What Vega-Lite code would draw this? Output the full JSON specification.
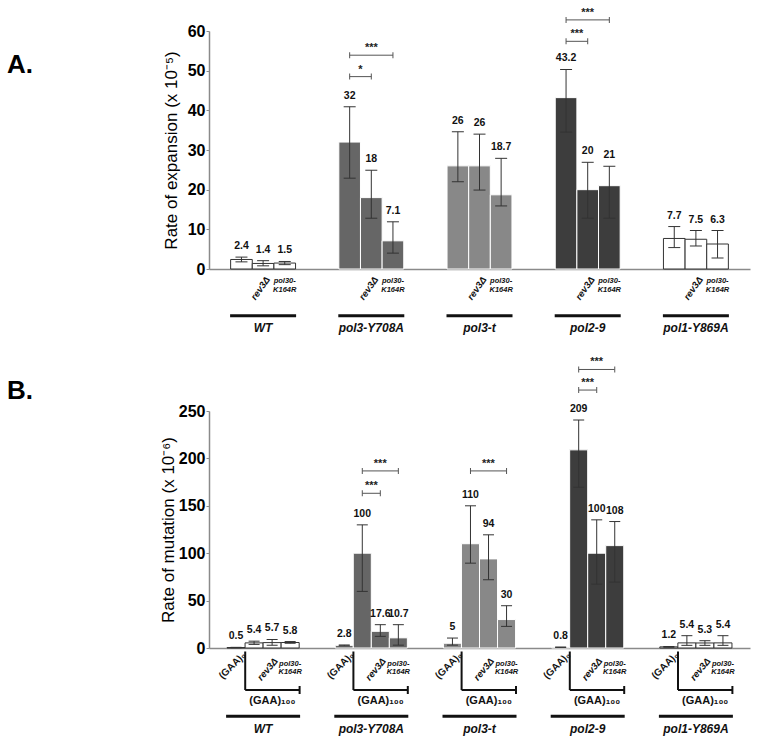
{
  "$schema": "https://vega.github.io/schema/vega-lite/v6.json",
  "padding": {"left": 7, "top": 6, "right": 5, "bottom": 5},
  "background": "white",
  "spacing": 22,
  "resolve": {"scale": {"xOffset": "independent"}},
  "config": {
    "view": {"stroke": null},
    "font": "Liberation Sans",
    "axis": {"grid": false, "domainColor": "#8a8a8a", "domainWidth": 1.5, "tickColor": "#8a8a8a", "labelColor": "#000000", "titleColor": "#000000"},
    "axisY": {"labelFontSize": 16, "labelFontWeight": "bold", "titleFontSize": 17, "titleFontWeight": "normal", "tickSize": 3, "labelPadding": 1},
    "axisX": {"labels": false, "ticks": false},
    "tick": {"opacity": 1},
    "title": {"offset": 0}
  },
  "datasets": {
    "A": [
      {"group": "WT", "strain": "wt", "rate": 2.4, "lo": 1.8, "hi": 3.0},
      {"group": "WT", "strain": "rev3Δ", "rate": 1.4, "lo": 0.8, "hi": 2.1},
      {"group": "WT", "strain": "pol30-K164R", "rate": 1.5, "lo": 1.1, "hi": 1.9},
      {"group": "pol3-Y708A", "strain": "wt", "rate": 32, "lo": 22.9, "hi": 40.9},
      {"group": "pol3-Y708A", "strain": "rev3Δ", "rate": 18, "lo": 12.8, "hi": 24.9},
      {"group": "pol3-Y708A", "strain": "pol30-K164R", "rate": 7.1, "lo": 4.0, "hi": 11.9},
      {"group": "pol3-t", "strain": "wt", "rate": 26, "lo": 22.0, "hi": 34.6},
      {"group": "pol3-t", "strain": "rev3Δ", "rate": 26, "lo": 19.9, "hi": 34.0},
      {"group": "pol3-t", "strain": "pol30-K164R", "rate": 18.7, "lo": 15.9, "hi": 27.9},
      {"group": "pol2-9", "strain": "wt", "rate": 43.2, "lo": 34.5, "hi": 50.3},
      {"group": "pol2-9", "strain": "rev3Δ", "rate": 20, "lo": 12.8, "hi": 26.9},
      {"group": "pol2-9", "strain": "pol30-K164R", "rate": 21, "lo": 12.8, "hi": 25.9},
      {"group": "pol1-Y869A", "strain": "wt", "rate": 7.7, "lo": 5.4, "hi": 10.7},
      {"group": "pol1-Y869A", "strain": "rev3Δ", "rate": 7.5, "lo": 5.8, "hi": 9.7},
      {"group": "pol1-Y869A", "strain": "pol30-K164R", "rate": 6.3, "lo": 2.8, "hi": 9.7}
    ],
    "B": [
      {"group": "WT", "strain": "(GAA)0", "rate": 0.5, "lo": 0.3, "hi": 0.7},
      {"group": "WT", "strain": "wt", "rate": 5.4, "lo": 3.8, "hi": 7.2},
      {"group": "WT", "strain": "rev3Δ", "rate": 5.7, "lo": 3.0, "hi": 9.0},
      {"group": "WT", "strain": "pol30-K164R", "rate": 5.8, "lo": 5.0, "hi": 6.8},
      {"group": "pol3-Y708A", "strain": "(GAA)0", "rate": 2.8, "lo": 2.4, "hi": 3.2},
      {"group": "pol3-Y708A", "strain": "wt", "rate": 100, "lo": 59.7, "hi": 129.9},
      {"group": "pol3-Y708A", "strain": "rev3Δ", "rate": 17.6, "lo": 12.3, "hi": 24.6},
      {"group": "pol3-Y708A", "strain": "pol30-K164R", "rate": 10.7, "lo": 3.0, "hi": 24.6},
      {"group": "pol3-t", "strain": "(GAA)0", "rate": 5, "lo": 3.0, "hi": 10.5},
      {"group": "pol3-t", "strain": "wt", "rate": 110, "lo": 89.5, "hi": 150},
      {"group": "pol3-t", "strain": "rev3Δ", "rate": 94, "lo": 72, "hi": 119.4},
      {"group": "pol3-t", "strain": "pol30-K164R", "rate": 30, "lo": 22.8, "hi": 44.6},
      {"group": "pol2-9", "strain": "(GAA)0", "rate": 0.8, "lo": 0.6, "hi": 1.0},
      {"group": "pol2-9", "strain": "wt", "rate": 209, "lo": 169.6, "hi": 240.5},
      {"group": "pol2-9", "strain": "rev3Δ", "rate": 100, "lo": 67.4, "hi": 135.2},
      {"group": "pol2-9", "strain": "pol30-K164R", "rate": 108, "lo": 69.5, "hi": 133.4},
      {"group": "pol1-Y869A", "strain": "(GAA)0", "rate": 1.2, "lo": 0.8, "hi": 1.6},
      {"group": "pol1-Y869A", "strain": "wt", "rate": 5.4, "lo": 2.8, "hi": 13.0},
      {"group": "pol1-Y869A", "strain": "rev3Δ", "rate": 5.3, "lo": 2.8, "hi": 7.7},
      {"group": "pol1-Y869A", "strain": "pol30-K164R", "rate": 5.4, "lo": 2.8, "hi": 13.0}
    ],
    "sigA": [
      {"group": "pol3-Y708A", "from": "wt", "to": "rev3Δ", "level": 48.5, "stars": "*"},
      {"group": "pol3-Y708A", "from": "wt", "to": "pol30-K164R", "level": 53.9, "stars": "***"},
      {"group": "pol2-9", "from": "wt", "to": "rev3Δ", "level": 57.4, "stars": "***"},
      {"group": "pol2-9", "from": "wt", "to": "pol30-K164R", "level": 62.8, "stars": "***"}
    ],
    "sigB": [
      {"group": "pol3-Y708A", "from": "wt", "to": "rev3Δ", "level": 163.2, "stars": "***"},
      {"group": "pol3-Y708A", "from": "wt", "to": "pol30-K164R", "level": 186.8, "stars": "***"},
      {"group": "pol3-t", "from": "wt", "to": "pol30-K164R", "level": 186.8, "stars": "***"},
      {"group": "pol2-9", "from": "wt", "to": "rev3Δ", "level": 272.1, "stars": "***"},
      {"group": "pol2-9", "from": "wt", "to": "pol30-K164R", "level": 293.8, "stars": "***"}
    ]
  },
  "vconcat": [
    {
      "width": 541,
      "height": 238,
      "title": {"text": "A.", "anchor": "start", "frame": "group", "orient": "top", "fontSize": 26, "fontWeight": "bold", "color": "#000000", "dx": -202, "dy": 71, "baseline": "top", "offset": 0},
      "encoding": {
        "x": {"field": "group", "type": "nominal", "sort": null, "title": null,
              "scale": {"domain": ["WT", "pol3-Y708A", "pol3-t", "pol2-9", "pol1-Y869A"], "paddingInner": 0.4, "paddingOuter": 0.2}},
        "y": {"field": "rate", "type": "quantitative", "title": "Rate of expansion (x 10⁻⁵)",
              "scale": {"domain": [0, 60], "nice": false},
              "axis": {"values": [0, 10, 20, 30, 40, 50, 60], "titlePadding": 7}}
      },
      "layer": [
        {
          "data": {"name": "A"},
          "mark": {"type": "bar", "strokeWidth": 1},
          "encoding": {
            "xOffset": {"field": "strain", "type": "nominal", "sort": null, "scale": {"domain": ["wt", "rev3Δ", "pol30-K164R"], "paddingInner": 0, "paddingOuter": 0}},
            "fill": {"field": "group", "type": "nominal", "legend": null, "scale": {"domain": ["WT", "pol3-Y708A", "pol3-t", "pol2-9", "pol1-Y869A"], "range": ["#ffffff", "#666666", "#888888", "#3d3d3d", "#ffffff"]}},
            "stroke": {"field": "group", "type": "nominal", "legend": null, "scale": {"domain": ["WT", "pol3-Y708A", "pol3-t", "pol2-9", "pol1-Y869A"], "range": ["#333333", "#ffffff", "#ffffff", "#ffffff", "#333333"]}}
          }
        },
        {
          "data": {"name": "A"},
          "mark": {"type": "rule", "color": "#333333", "strokeWidth": 1},
          "encoding": {
            "xOffset": {"field": "strain", "type": "nominal", "sort": null, "scale": {"domain": ["wt", "rev3Δ", "pol30-K164R"], "paddingInner": 0, "paddingOuter": 0}},
            "y": {"field": "lo", "type": "quantitative"},
            "y2": {"field": "hi"}
          }
        },
        {
          "data": {"name": "A"},
          "mark": {"type": "tick", "orient": "horizontal", "color": "#333333", "size": 12, "thickness": 1},
          "encoding": {
            "xOffset": {"field": "strain", "type": "nominal", "sort": null, "scale": {"domain": ["wt", "rev3Δ", "pol30-K164R"], "paddingInner": 0, "paddingOuter": 0}},
            "y": {"field": "lo", "type": "quantitative"}
          }
        },
        {
          "data": {"name": "A"},
          "mark": {"type": "tick", "orient": "horizontal", "color": "#333333", "size": 12, "thickness": 1},
          "encoding": {
            "xOffset": {"field": "strain", "type": "nominal", "sort": null, "scale": {"domain": ["wt", "rev3Δ", "pol30-K164R"], "paddingInner": 0, "paddingOuter": 0}},
            "y": {"field": "hi", "type": "quantitative"}
          }
        },
        {
          "data": {"name": "A"},
          "mark": {"type": "text", "baseline": "bottom", "dy": -6, "fontSize": 10.5, "fontWeight": "bold", "color": "#111111"},
          "encoding": {
            "xOffset": {"field": "strain", "type": "nominal", "sort": null, "scale": {"domain": ["wt", "rev3Δ", "pol30-K164R"], "paddingInner": 0, "paddingOuter": 0}},
            "y": {"field": "hi", "type": "quantitative"},
            "text": {"field": "rate", "type": "quantitative"}
          }
        },
        {
          "data": {"name": "A"},
          "transform": [{"filter": "datum.strain === 'rev3Δ'"}],
          "mark": {"type": "text", "angle": 305, "align": "right", "baseline": "middle", "dx": 8.6, "yOffset": 15.8, "fontSize": 9.5, "fontWeight": "bold", "fontStyle": "italic", "color": "#111111"},
          "encoding": {
            "xOffset": {"field": "strain", "type": "nominal", "sort": null, "scale": {"domain": ["wt", "rev3Δ", "pol30-K164R"], "paddingInner": 0, "paddingOuter": 0}},
            "y": {"datum": 0, "type": "quantitative"},
            "text": {"field": "strain"}
          }
        },
        {
          "data": {"name": "A"},
          "transform": [{"filter": "datum.strain === 'pol30-K164R'"}],
          "mark": {"type": "text", "text": ["pol30-", "K164R"], "align": "center", "baseline": "top", "lineHeight": 8.7, "yOffset": 8.4, "fontSize": 7.5, "fontWeight": "bold", "fontStyle": "italic", "color": "#111111"},
          "encoding": {
            "xOffset": {"field": "strain", "type": "nominal", "sort": null, "scale": {"domain": ["wt", "rev3Δ", "pol30-K164R"], "paddingInner": 0, "paddingOuter": 0}},
            "y": {"datum": 0, "type": "quantitative"}
          }
        },
        {
          "data": {"name": "A"},
          "transform": [{"filter": "datum.strain === 'wt'"}],
          "mark": {"type": "tick", "orient": "horizontal", "size": 66, "thickness": 3, "color": "#111111", "yOffset": 46.7},
          "encoding": {"y": {"datum": 0, "type": "quantitative"}}
        },
        {
          "data": {"name": "A"},
          "transform": [{"filter": "datum.strain === 'wt'"}],
          "mark": {"type": "text", "baseline": "middle", "yOffset": 58.7, "fontSize": 12, "fontWeight": "bold", "fontStyle": "italic", "color": "#111111"},
          "encoding": {"y": {"datum": 0, "type": "quantitative"}, "text": {"field": "group"}}
        },
        {
          "data": {"name": "sigA"},
          "transform": [{"filter": "datum.to === 'rev3Δ'"}],
          "mark": {"type": "rule", "color": "#555555", "strokeWidth": 1, "xOffset": -21.64, "x2Offset": 0},
          "encoding": {"x2": {"field": "group"}, "y": {"field": "level", "type": "quantitative"}}
        },
        {
          "data": {"name": "sigA"},
          "transform": [{"filter": "datum.to === 'pol30-K164R'"}],
          "mark": {"type": "rule", "color": "#555555", "strokeWidth": 1, "xOffset": -21.64, "x2Offset": 21.64},
          "encoding": {"x2": {"field": "group"}, "y": {"field": "level", "type": "quantitative"}}
        },
        {
          "data": {"name": "sigA"},
          "mark": {"type": "tick", "orient": "vertical", "color": "#555555", "size": 6, "thickness": 1},
          "encoding": {
            "xOffset": {"field": "from", "type": "nominal", "sort": null, "scale": {"domain": ["wt", "rev3Δ", "pol30-K164R"], "paddingInner": 0, "paddingOuter": 0}},
            "y": {"field": "level", "type": "quantitative"}
          }
        },
        {
          "data": {"name": "sigA"},
          "mark": {"type": "tick", "orient": "vertical", "color": "#555555", "size": 6, "thickness": 1},
          "encoding": {
            "xOffset": {"field": "to", "type": "nominal", "sort": null, "scale": {"domain": ["wt", "rev3Δ", "pol30-K164R"], "paddingInner": 0, "paddingOuter": 0}},
            "y": {"field": "level", "type": "quantitative"}
          }
        },
        {
          "data": {"name": "sigA"},
          "transform": [{"filter": "datum.to === 'rev3Δ'"}],
          "mark": {"type": "text", "baseline": "bottom", "dy": -2, "dx": -10.82, "fontSize": 11, "fontWeight": "bold", "color": "#222222"},
          "encoding": {"y": {"field": "level", "type": "quantitative"}, "text": {"field": "stars"}}
        },
        {
          "data": {"name": "sigA"},
          "transform": [{"filter": "datum.to === 'pol30-K164R'"}],
          "mark": {"type": "text", "baseline": "bottom", "dy": -2, "dx": 0, "fontSize": 11, "fontWeight": "bold", "color": "#222222"},
          "encoding": {"y": {"field": "level", "type": "quantitative"}, "text": {"field": "stars"}}
        }
      ]
    },
    {
      "width": 541,
      "height": 237,
      "title": {"text": "B.", "anchor": "start", "frame": "group", "orient": "top", "fontSize": 26, "fontWeight": "bold", "color": "#000000", "dx": -202, "dy": 48, "baseline": "top", "offset": 0},
      "encoding": {
        "x": {"field": "group", "type": "nominal", "sort": null, "title": null,
              "scale": {"domain": ["WT", "pol3-Y708A", "pol3-t", "pol2-9", "pol1-Y869A"], "paddingInner": 0.3333, "paddingOuter": 0.1667}},
        "y": {"field": "rate", "type": "quantitative", "title": "Rate of mutation (x 10⁻⁶)",
              "scale": {"domain": [0, 250], "nice": false},
              "axis": {"values": [0, 50, 100, 150, 200, 250], "titlePadding": 1}}
      },
      "layer": [
        {
          "data": {"name": "B"},
          "mark": {"type": "bar", "strokeWidth": 1},
          "encoding": {
            "xOffset": {"field": "strain", "type": "nominal", "sort": null, "scale": {"domain": ["(GAA)0", "wt", "rev3Δ", "pol30-K164R"], "paddingInner": 0, "paddingOuter": 0}},
            "fill": {"field": "group", "type": "nominal", "legend": null, "scale": {"domain": ["WT", "pol3-Y708A", "pol3-t", "pol2-9", "pol1-Y869A"], "range": ["#ffffff", "#666666", "#888888", "#3d3d3d", "#ffffff"]}},
            "stroke": {"field": "group", "type": "nominal", "legend": null, "scale": {"domain": ["WT", "pol3-Y708A", "pol3-t", "pol2-9", "pol1-Y869A"], "range": ["#333333", "#ffffff", "#ffffff", "#ffffff", "#333333"]}}
          }
        },
        {
          "data": {"name": "B"},
          "mark": {"type": "rule", "color": "#333333", "strokeWidth": 1},
          "encoding": {
            "xOffset": {"field": "strain", "type": "nominal", "sort": null, "scale": {"domain": ["(GAA)0", "wt", "rev3Δ", "pol30-K164R"], "paddingInner": 0, "paddingOuter": 0}},
            "y": {"field": "lo", "type": "quantitative"},
            "y2": {"field": "hi"}
          }
        },
        {
          "data": {"name": "B"},
          "mark": {"type": "tick", "orient": "horizontal", "color": "#333333", "size": 11, "thickness": 1},
          "encoding": {
            "xOffset": {"field": "strain", "type": "nominal", "sort": null, "scale": {"domain": ["(GAA)0", "wt", "rev3Δ", "pol30-K164R"], "paddingInner": 0, "paddingOuter": 0}},
            "y": {"field": "lo", "type": "quantitative"}
          }
        },
        {
          "data": {"name": "B"},
          "mark": {"type": "tick", "orient": "horizontal", "color": "#333333", "size": 11, "thickness": 1},
          "encoding": {
            "xOffset": {"field": "strain", "type": "nominal", "sort": null, "scale": {"domain": ["(GAA)0", "wt", "rev3Δ", "pol30-K164R"], "paddingInner": 0, "paddingOuter": 0}},
            "y": {"field": "hi", "type": "quantitative"}
          }
        },
        {
          "data": {"name": "B"},
          "mark": {"type": "text", "baseline": "bottom", "dy": -6, "fontSize": 10.5, "fontWeight": "bold", "color": "#111111"},
          "encoding": {
            "xOffset": {"field": "strain", "type": "nominal", "sort": null, "scale": {"domain": ["(GAA)0", "wt", "rev3Δ", "pol30-K164R"], "paddingInner": 0, "paddingOuter": 0}},
            "y": {"field": "hi", "type": "quantitative"},
            "text": {"field": "rate", "type": "quantitative"}
          }
        },
        {
          "data": {"name": "B"},
          "transform": [{"filter": "datum.strain === '(GAA)0'"}],
          "mark": {"type": "text", "text": "(GAA)₀", "angle": 315, "align": "right", "baseline": "middle", "dx": 11.5, "yOffset": 13.9, "fontSize": 10, "fontWeight": "bold", "color": "#111111"},
          "encoding": {
            "xOffset": {"field": "strain", "type": "nominal", "sort": null, "scale": {"domain": ["(GAA)0", "wt", "rev3Δ", "pol30-K164R"], "paddingInner": 0, "paddingOuter": 0}},
            "y": {"datum": 0, "type": "quantitative"}
          }
        },
        {
          "data": {"name": "B"},
          "transform": [{"filter": "datum.strain === 'rev3Δ'"}],
          "mark": {"type": "text", "angle": 310, "align": "right", "baseline": "middle", "dx": 6, "yOffset": 16, "fontSize": 9.5, "fontWeight": "bold", "fontStyle": "italic", "color": "#111111"},
          "encoding": {
            "xOffset": {"field": "strain", "type": "nominal", "sort": null, "scale": {"domain": ["(GAA)0", "wt", "rev3Δ", "pol30-K164R"], "paddingInner": 0, "paddingOuter": 0}},
            "y": {"datum": 0, "type": "quantitative"},
            "text": {"field": "strain"}
          }
        },
        {
          "data": {"name": "B"},
          "transform": [{"filter": "datum.strain === 'pol30-K164R'"}],
          "mark": {"type": "text", "text": ["pol30-", "K164R"], "align": "center", "baseline": "top", "lineHeight": 8.4, "yOffset": 11.7, "fontSize": 7.5, "fontWeight": "bold", "fontStyle": "italic", "color": "#111111"},
          "encoding": {
            "xOffset": {"field": "strain", "type": "nominal", "sort": null, "scale": {"domain": ["(GAA)0", "wt", "rev3Δ", "pol30-K164R"], "paddingInner": 0, "paddingOuter": 0}},
            "y": {"datum": 0, "type": "quantitative"}
          }
        },
        {
          "data": {"name": "B"},
          "transform": [{"filter": "datum.strain === 'wt'"}],
          "mark": {"type": "rule", "color": "#111111", "strokeWidth": 2, "xOffset": -17.9, "yOffset": 3.5, "y2Offset": 42},
          "encoding": {"y": {"datum": 0, "type": "quantitative"}, "y2": {"datum": 0}}
        },
        {
          "data": {"name": "B"},
          "transform": [{"filter": "datum.strain === 'wt'"}],
          "mark": {"type": "rule", "color": "#111111", "strokeWidth": 2, "xOffset": -17.9, "x2Offset": 36.5, "yOffset": 42},
          "encoding": {"x2": {"field": "group"}, "y": {"datum": 0, "type": "quantitative"}}
        },
        {
          "data": {"name": "B"},
          "transform": [{"filter": "datum.strain === 'wt'"}],
          "mark": {"type": "tick", "orient": "vertical", "color": "#111111", "size": 8, "thickness": 2, "xOffset": 36.5, "yOffset": 42},
          "encoding": {"y": {"datum": 0, "type": "quantitative"}}
        },
        {
          "data": {"name": "B"},
          "transform": [{"filter": "datum.strain === 'wt'"}],
          "mark": {"type": "text", "text": "(GAA)₁₀₀", "baseline": "middle", "dx": 9.3, "yOffset": 53, "fontSize": 11, "fontWeight": "bold", "color": "#111111"},
          "encoding": {"y": {"datum": 0, "type": "quantitative"}}
        },
        {
          "data": {"name": "B"},
          "transform": [{"filter": "datum.strain === 'wt'"}],
          "mark": {"type": "tick", "orient": "horizontal", "size": 74, "thickness": 3, "color": "#111111", "yOffset": 68.3},
          "encoding": {"y": {"datum": 0, "type": "quantitative"}}
        },
        {
          "data": {"name": "B"},
          "transform": [{"filter": "datum.strain === 'wt'"}],
          "mark": {"type": "text", "baseline": "middle", "yOffset": 80.5, "fontSize": 12, "fontWeight": "bold", "fontStyle": "italic", "color": "#111111"},
          "encoding": {"y": {"datum": 0, "type": "quantitative"}, "text": {"field": "group"}}
        },
        {
          "data": {"name": "sigB"},
          "transform": [{"filter": "datum.to === 'rev3Δ'"}],
          "mark": {"type": "rule", "color": "#555555", "strokeWidth": 1, "xOffset": -8.95, "x2Offset": 8.95},
          "encoding": {"x2": {"field": "group"}, "y": {"field": "level", "type": "quantitative"}}
        },
        {
          "data": {"name": "sigB"},
          "transform": [{"filter": "datum.to === 'pol30-K164R'"}],
          "mark": {"type": "rule", "color": "#555555", "strokeWidth": 1, "xOffset": -8.95, "x2Offset": 26.85},
          "encoding": {"x2": {"field": "group"}, "y": {"field": "level", "type": "quantitative"}}
        },
        {
          "data": {"name": "sigB"},
          "mark": {"type": "tick", "orient": "vertical", "color": "#555555", "size": 6, "thickness": 1},
          "encoding": {
            "xOffset": {"field": "from", "type": "nominal", "sort": null, "scale": {"domain": ["(GAA)0", "wt", "rev3Δ", "pol30-K164R"], "paddingInner": 0, "paddingOuter": 0}},
            "y": {"field": "level", "type": "quantitative"}
          }
        },
        {
          "data": {"name": "sigB"},
          "mark": {"type": "tick", "orient": "vertical", "color": "#555555", "size": 6, "thickness": 1},
          "encoding": {
            "xOffset": {"field": "to", "type": "nominal", "sort": null, "scale": {"domain": ["(GAA)0", "wt", "rev3Δ", "pol30-K164R"], "paddingInner": 0, "paddingOuter": 0}},
            "y": {"field": "level", "type": "quantitative"}
          }
        },
        {
          "data": {"name": "sigB"},
          "transform": [{"filter": "datum.to === 'rev3Δ'"}],
          "mark": {"type": "text", "baseline": "bottom", "dy": -2, "dx": 0, "fontSize": 11, "fontWeight": "bold", "color": "#222222"},
          "encoding": {"y": {"field": "level", "type": "quantitative"}, "text": {"field": "stars"}}
        },
        {
          "data": {"name": "sigB"},
          "transform": [{"filter": "datum.to === 'pol30-K164R'"}],
          "mark": {"type": "text", "baseline": "bottom", "dy": -2, "dx": 8.95, "fontSize": 11, "fontWeight": "bold", "color": "#222222"},
          "encoding": {"y": {"field": "level", "type": "quantitative"}, "text": {"field": "stars"}}
        }
      ]
    }
  ]
}
